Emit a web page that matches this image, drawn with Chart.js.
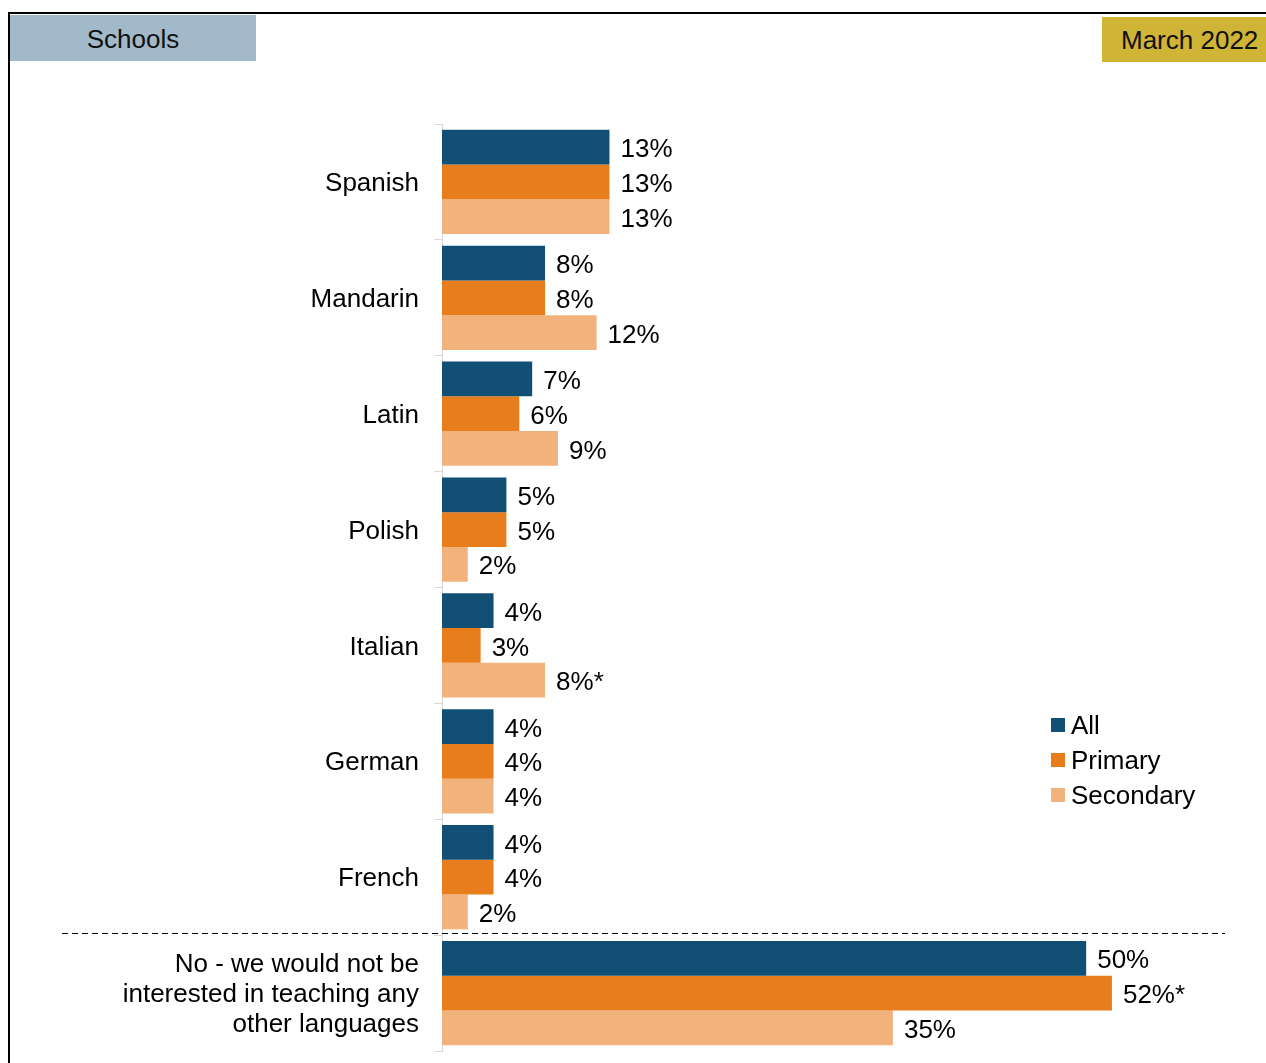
<!DOCTYPE html>
<html>
<head>
<meta charset="utf-8">
<title>Schools – languages of interest, March 2022</title>
<script src="https://cdn.jsdelivr.net/npm/chart.js@4.4.1/dist/chart.umd.min.js"></script>
<style>
  html, body { margin: 0; padding: 0; background: #fff; }
  body {
    width: 1266px; height: 1063px; position: relative; overflow: hidden;
    font-family: "Liberation Sans", Arial, sans-serif;
  }
  #frame {
    position: absolute; left: 8px; top: 12px; right: -4px; bottom: -4px;
    border-top: 2px solid #000; border-left: 2px solid #000;
  }
  #wrap { position: absolute; left: 0; top: 0; width: 1266px; height: 1063px; }
  .tag { position: absolute; color: #111; font-size: 26px; }
  #tag-left {
    left: 10px; top: 15px; width: 246px; height: 46px; line-height: 48px;
    background: #A2B9C9; text-align: center;
  }
  #tag-right {
    left: 1102px; top: 17px; width: 164px; height: 45px; line-height: 47px;
    background: #CFB436; text-align: left; padding-left: 19px; box-sizing: border-box;
  }
</style>
</head>
<body>
<div id="frame"></div>
<div id="wrap"><canvas id="chart"></canvas></div>
<div class="tag" id="tag-left">Schools</div>
<div class="tag" id="tag-right">March 2022</div>

<script>
// Languages schools would be interested in teaching (% of schools)
const categories = [
  'Spanish', 'Mandarin', 'Latin', 'Polish', 'Italian', 'German', 'French',
  ['No - we would not be', 'interested in teaching any', 'other languages']
];
const seriesNames = ['All', 'Primary', 'Secondary'];
const allSchools  = [13, 8, 7, 5, 4, 4, 4, 50];
const primary     = [13, 8, 6, 5, 3, 4, 4, 52];
const secondary   = [13, 12, 9, 2, 8, 4, 2, 35];
// significance markers appended to value labels
const allNotes       = ['', '', '', '', '', '', '', ''];
const primaryNotes   = ['', '', '', '', '', '', '', '*'];
const secondaryNotes = ['', '', '', '', '*', '', '', ''];

const colours = ['#114F74', '#E87D1E', '#F2B27B'];
const FONT = '"Liberation Sans", Arial, sans-serif';

// value labels at the end of each bar
const valueLabels = {
  id: 'valueLabels',
  afterDatasetsDraw(chart) {
    const ctx = chart.ctx;
    ctx.save();
    ctx.font = '26px ' + FONT;
    ctx.fillStyle = '#000';
    ctx.textAlign = 'left';
    ctx.textBaseline = 'middle';
    chart.data.datasets.forEach((ds, di) => {
      const meta = chart.getDatasetMeta(di);
      meta.data.forEach((bar, i) => {
        ctx.fillText(ds.data[i] + '%' + ds.notes[i], bar.x + 11, bar.y + 3);
      });
    });
    ctx.restore();
  }
};

// dashed rule separating the "No" answer from the languages
const separator = {
  id: 'separator',
  afterDatasetsDraw(chart, args, opts) {
    const y = chart.scales.y;
    const py = Math.round((y.getPixelForValue(opts.after) + y.getPixelForValue(opts.after + 1)) / 2) - 1.5;
    const ctx = chart.ctx;
    ctx.save();
    ctx.strokeStyle = '#000';
    ctx.lineWidth = 1.2;
    ctx.setLineDash([6, 4]);
    ctx.beginPath();
    ctx.moveTo(opts.x0, py);
    ctx.lineTo(opts.x1, py);
    ctx.stroke();
    ctx.restore();
  }
};

// legend block on the right
const sideLegend = {
  id: 'sideLegend',
  afterDraw(chart, args, opts) {
    const ctx = chart.ctx;
    ctx.save();
    ctx.font = '26px ' + FONT;
    ctx.textAlign = 'left';
    ctx.textBaseline = 'middle';
    chart.data.datasets.forEach((ds, i) => {
      const cy = opts.y + i * opts.step;
      ctx.fillStyle = ds.backgroundColor;
      ctx.fillRect(opts.x, cy - 7, 14, 14);
      ctx.fillStyle = '#000';
      ctx.fillText(ds.label, opts.x + 20, cy + 2);
    });
    ctx.restore();
  }
};

new Chart(document.getElementById('chart'), {
  type: 'bar',
  data: {
    labels: categories,
    datasets: [
      { label: seriesNames[0], data: allSchools, notes: allNotes, backgroundColor: colours[0] },
      { label: seriesNames[1], data: primary, notes: primaryNotes, backgroundColor: colours[1] },
      { label: seriesNames[2], data: secondary, notes: secondaryNotes, backgroundColor: colours[2] }
    ]
  },
  options: {
    indexAxis: 'y',
    responsive: true,
    maintainAspectRatio: false,
    animation: false,
    datasets: { bar: { categoryPercentage: 0.9, barPercentage: 1.0, borderWidth: 0 } },
    layout: { padding: { top: 124, bottom: 12, left: 0, right: 51 } },
    scales: {
      x: { display: false, min: 0, max: 60 },
      y: {
        afterFit(scale) {
          scale.width = 442;
          // the category band already leaves room for the tall last label
          scale.paddingTop = 0;
          scale.paddingBottom = 0;
        },
        grid: {
          display: true, drawOnChartArea: false, drawTicks: true,
          tickLength: 8, color: '#D9D9D9', offset: true
        },
        border: { display: true, color: '#D9D9D9', width: 1 },
        ticks: {
          color: '#000', padding: 15, labelOffset: 2,
          font: { family: FONT, size: 26, lineHeight: 1.154 }
        }
      }
    },
    plugins: {
      legend: { display: false },
      tooltip: { enabled: false },
      separator: { after: 6, x0: 62, x1: 1225 },
      sideLegend: { x: 1051, y: 725, step: 35 }
    }
  },
  plugins: [valueLabels, separator, sideLegend]
});
</script>
</body>
</html>
